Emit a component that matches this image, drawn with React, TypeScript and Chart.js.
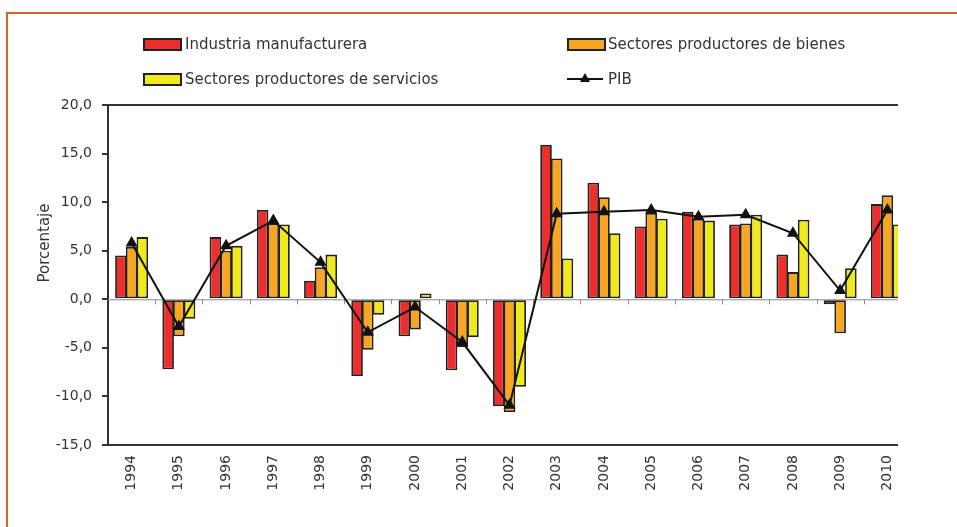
import React, { useEffect, useRef } from "react";
import { Chart, registerables } from "chart.js";

Chart.register(...registerables);

const years = ["1994","1995","1996","1997","1998","1999","2000","2001","2002","2003","2004","2005","2006","2007","2008","2009","2010"];
const industria = [4.5, -7.2, 6.4, 9.2, 1.9, -7.9, -3.8, -7.3, -11.0, 15.9, 12.0, 7.5, 9.0, 7.7, 4.6, -0.5, 9.8];
const bienes = [5.4, -3.8, 5.0, 7.8, 3.3, -5.2, -3.1, -4.9, -11.6, 14.5, 10.5, 8.9, 8.3, 7.8, 2.8, -3.5, 10.7];
const servicios = [6.4, -2.0, 5.5, 7.7, 4.6, -1.6, 0.6, -3.9, -9.0, 4.2, 6.8, 8.3, 8.1, 8.7, 8.2, 3.2, 7.7];
const pib = [5.8, -2.8, 5.5, 8.1, 3.8, -3.4, -0.8, -4.4, -10.9, 8.8, 9.0, 9.2, 8.5, 8.7, 6.8, 0.9, 9.2];
const yMin = -15;
const yMax = 20;
const yStep = 5;
const yTitle = "Porcentaje";

const RED = "#ec2e2c";
const ORANGE = "#f6a623";
const YELLOW = "#f0ea1c";
const EDGE = "#222";
const TEXT = "#333";
const FONT = "'DejaVu Sans', sans-serif";

const zeroAxisPlugin = {
  id: "zeroAxis",
  beforeDatasetsDraw(chart: any) {
    const { ctx, chartArea, scales } = chart;
    const y0 = scales.y.getPixelForValue(0);
    ctx.save();
    ctx.strokeStyle = "#8a8a8a";
    ctx.lineWidth = 1;
    ctx.beginPath();
    ctx.moveTo(chartArea.left, y0 + 0.5);
    ctx.lineTo(chartArea.right, y0 + 0.5);
    ctx.stroke();
    const n = years.length;
    for (let i = 1; i < n; i++) {
      const x = (scales.x.getPixelForValue(i - 1) + scales.x.getPixelForValue(i)) / 2;
      ctx.beginPath();
      ctx.moveTo(Math.round(x) + 0.5, y0);
      ctx.lineTo(Math.round(x) + 0.5, y0 + 5);
      ctx.stroke();
    }
    ctx.restore();
  },
};

const yTitlePlugin = {
  id: "yTitleCustom",
  afterDraw(chart: any) {
    const { ctx } = chart;
    ctx.save();
    ctx.translate(45, 243);
    ctx.rotate(-Math.PI / 2);
    ctx.font = `15px ${FONT}`;
    ctx.fillStyle = TEXT;
    ctx.textAlign = "center";
    ctx.textBaseline = "middle";
    ctx.fillText(yTitle, 0, 0);
    ctx.restore();
  },
};

function LegendBox({ color, x, y }: { color: string; x: number; y: number }) {
  return (
    <div
      style={{
        position: "absolute",
        left: x,
        top: y,
        width: 35,
        height: 9,
        background: color,
        border: `2px solid ${EDGE}`,
      }}
    />
  );
}

function LegendText({ text, x, y }: { text: string; x: number; y: number }) {
  return (
    <div
      style={{
        position: "absolute",
        left: x,
        top: y,
        fontFamily: FONT,
        fontSize: 15,
        lineHeight: "18px",
        color: TEXT,
        whiteSpace: "nowrap",
      }}
    >
      {text}
    </div>
  );
}

export default function App() {
  const canvasRef = useRef<HTMLCanvasElement | null>(null);

  useEffect(() => {
    if (!canvasRef.current) return;
    const barCommon = { borderColor: EDGE, borderWidth: 1.8, borderSkipped: false, order: 1 };
    const chart = new Chart(canvasRef.current, {
      type: "bar",
      data: {
        labels: years,
        datasets: [
          {
            type: "line",
            label: "PIB",
            data: pib,
            borderColor: "#111",
            backgroundColor: "#111",
            borderWidth: 2,
            pointStyle: "triangle",
            pointRadius: 5,
            pointBackgroundColor: "#111",
            pointBorderColor: "#111",
            tension: 0,
            order: 0,
          } as any,
          { label: "Industria manufacturera", data: industria, backgroundColor: RED, ...barCommon } as any,
          { label: "Sectores productores de bienes", data: bienes, backgroundColor: ORANGE, ...barCommon } as any,
          { label: "Sectores productores de servicios", data: servicios, backgroundColor: YELLOW, ...barCommon } as any,
        ],
      },
      options: {
        responsive: false,
        animation: false,
        devicePixelRatio: 1,
        layout: { padding: { left: 0, top: 105, right: 9, bottom: 0 } },
        plugins: { legend: { display: false }, tooltip: { enabled: false } },
        datasets: { bar: { categoryPercentage: 0.68, barPercentage: 1.08 } },
        scales: {
          x: {
            offset: true,
            grid: { display: false, drawTicks: false },
            border: { display: true, color: "#333", width: 2 },
            ticks: {
              autoSkip: false,
              minRotation: 90,
              maxRotation: 90,
              padding: 10,
              color: TEXT,
              font: { family: FONT, size: 14 },
            },
            afterFit(scale: any) {
              scale.height = 82;
            },
          },
          y: {
            min: yMin,
            max: yMax,
            grid: {
              drawOnChartArea: true,
              color: (c: any) => (c.tick && c.tick.value === yMax ? "#333" : "rgba(0,0,0,0)"),
              lineWidth: 2,
              tickColor: "#333",
              tickLength: 6,
            },
            border: { display: true, color: "#333", width: 2 },
            ticks: {
              stepSize: yStep,
              padding: 10,
              color: TEXT,
              font: { family: FONT, size: 14 },
              callback: (v: any) => Number(v).toFixed(1).replace(".", ","),
            },
            afterFit(scale: any) {
              scale.width = 108;
            },
          },
        },
      },
      plugins: [zeroAxisPlugin, yTitlePlugin],
    });
    return () => chart.destroy();
  }, []);

  return (
    <div
      style={{
        position: "fixed",
        left: 0,
        top: 0,
        width: 957,
        height: 527,
        background: "#fff",
        overflow: "hidden",
      }}
    >
      <div
        style={{
          position: "absolute",
          left: 6,
          top: 12,
          width: 960,
          height: 530,
          borderTop: "2px solid #d8602a",
          borderLeft: "2px solid #d8602a",
        }}
      />
      <div style={{ position: "absolute", left: 0, top: 0, width: 898, height: 527, overflow: "hidden" }}>
        <canvas ref={canvasRef} width={920} height={527} style={{ display: "block" }} />
      </div>
      <LegendBox color={RED} x={143} y={38} />
      <LegendText text="Industria manufacturera" x={185} y={35} />
      <LegendBox color={ORANGE} x={567} y={38} />
      <LegendText text="Sectores productores de bienes" x={608} y={35} />
      <LegendBox color={YELLOW} x={143} y={73} />
      <LegendText text="Sectores productores de servicios" x={185} y={70} />
      <div style={{ position: "absolute", left: 567, top: 78, width: 36, height: 2, background: "#111" }} />
      <div
        style={{
          position: "absolute",
          left: 580,
          top: 73,
          width: 0,
          height: 0,
          borderLeft: "5px solid transparent",
          borderRight: "5px solid transparent",
          borderBottom: "9px solid #111",
        }}
      />
      <LegendText text="PIB" x={608} y={70} />
    </div>
  );
}
